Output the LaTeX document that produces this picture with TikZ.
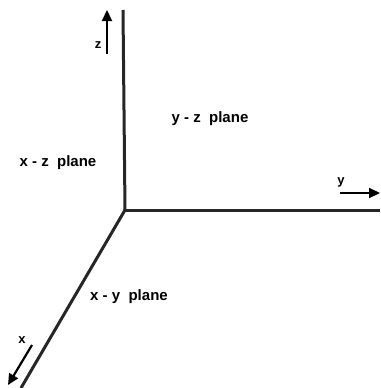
\documentclass[tikz,border=0pt]{standalone}
\usepackage{fontspec}
\setmainfont{Liberation Sans}
\usetikzlibrary{arrows.meta}
\begin{document}
\begin{tikzpicture}[x=1pt,y=-1pt,
  axis/.style={line width=3pt,black!85},
  dirarrow/.style={line width=2.2pt,-{Triangle[length=11pt,width=10pt]}},
  lbl/.style={font=\fontsize{15}{16}\selectfont\bfseries,inner sep=0pt},
  small/.style={font=\fontsize{13}{14}\selectfont\bfseries,inner sep=0pt}]
\useasboundingbox (0,0) rectangle (380,388);
\coordinate (o) at (125,210);
\coordinate (ztop) at (123,10);
\coordinate (yend) at (380,210);
\coordinate (xend) at (21,388);
\draw[axis] (o) -- (ztop);
\draw[axis] (o) -- (yend);
\draw[axis] (o) -- (xend);
\coordinate (za) at (107,54);
\coordinate (zb) at (107,10);
\draw[dirarrow] (za) -- (zb);
\node[small] (zl) at (98,45) {z};
\coordinate (ya) at (340,193);
\coordinate (yb) at (380,193);
\draw[dirarrow] (ya) -- (yb);
\node[small] (yl) at (341,182) {y};
\coordinate (xa) at (32,345);
\coordinate (xb) at (8,385);
\draw[dirarrow] (xa) -- (xb);
\node[small] (xl) at (22,340) {x};
\node[lbl] (xz) at (58,163) {x - z\ \ plane};
\node[lbl] (yz) at (210,119) {y - z\ \ plane};
\node[lbl] (xy) at (129,297) {x - y\ \ plane};
\end{tikzpicture}
\end{document}
